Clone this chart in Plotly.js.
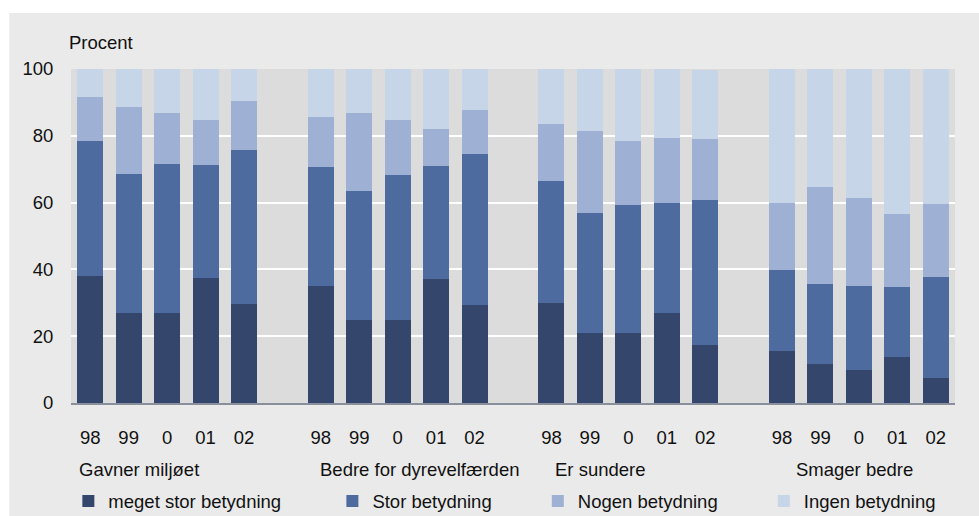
<!DOCTYPE html>
<html>
<head>
<meta charset="utf-8">
<script src="https://cdn.plot.ly/plotly-3.0.1.min.js"></script>
<style>html,body{margin:0;padding:0;background:#fff}#chart{width:979px;height:516px}</style>
</head>
<body>
<div id="chart"></div>
<script>
// Data
const groups = ["Gavner miljøet", "Bedre for dyrevelfærden", "Er sundere", "Smager bedre"];
const years = ["98", "99", "0", "01", "02"];
const seriesNames = ["meget stor betydning", "Stor betydning", "Nogen betydning", "Ingen betydning"];
const megetStor = [38.1, 27.0, 27.0, 37.5, 29.7,  35.1, 24.9, 24.9, 37.2, 29.4,  30.0, 21.0, 21.0, 27.0, 17.4,  15.6, 11.8, 10.0, 13.8, 7.6];
const stor      = [40.4, 41.6, 44.6, 33.8, 46.1,  35.6, 38.6, 43.4, 33.8, 45.2,  36.5, 36.0, 38.4, 32.9, 43.4,  24.3, 23.9, 25.1, 21.0, 30.1];
const nogen     = [13.1, 20.0, 15.2, 13.4, 14.6,  14.9, 23.3, 16.4, 11.0, 13.1,  17.0, 24.4, 19.1, 19.5, 18.3,  20.0, 29.0, 26.3, 21.8, 21.9];
const ingen     = [ 8.4, 11.4, 13.2, 15.3,  9.6,  14.4, 13.2, 15.3, 18.0, 12.3,  16.5, 18.6, 21.5, 20.6, 20.5,  40.1, 35.3, 38.6, 43.4, 40.4];

// Layout helpers (positions/styles)
const colors = ["#34466b", "#4e6ba0", "#9eb0d4", "#c6d5e8"];
const slot = 6; // 5 bars + 1 empty slot per group
const xs = [], tickText = [];
groups.forEach((g, gi) => years.forEach((y, yi) => { xs.push(gi * slot + yi); tickText.push(y); }));
const labelOffsets = [-0.34, -0.07, 0.05, 0.31];
const padCounts = [9, 8, 8, 0];

const allSeries = [megetStor, stor, nogen, ingen];
const traces = allSeries.map((vals, i) => ({
  type: 'bar',
  x: xs,
  y: vals,
  name: seriesNames[i] + '\u00a0'.repeat(padCounts[i]),
  marker: {color: colors[i], line: {width: 0}},
  hoverinfo: 'y'
}));

const font = {family: '"Liberation Sans", Arial, sans-serif', size: 18.5, color: '#111'};

const annotations = groups.map((g, gi) => ({
  text: g, xref: 'x', yref: 'paper',
  x: gi * slot + labelOffsets[gi] , y: -0.2, xanchor: 'left', yanchor: 'middle',
  showarrow: false, font: font
}));
annotations.push({
  text: 'Procent', xref: 'paper', yref: 'paper', x: -0.0043, y: 1.08,
  xanchor: 'left', yanchor: 'middle', showarrow: false, font: font
});

const layout = {
  width: 979, height: 516,
  margin: {l: 71, r: 24, t: 69, b: 113, pad: 0, autoexpand: false},
  paper_bgcolor: '#eaeaea',
  plot_bgcolor: '#dcdcdc',
  barmode: 'stack',
  bargap: 0.324,
  showlegend: true,
  legend: {
    orientation: 'h', x: -0.003, y: -0.295, xanchor: 'left', yanchor: 'middle',
    font: font, bgcolor: 'rgba(0,0,0,0)', traceorder: 'normal', itemclick: false
  },
  xaxis: {
    range: [-0.5, 22.5], tickmode: 'array', tickvals: xs, ticktext: tickText,
    showgrid: false, zeroline: false, showline: true, linecolor: '#8a909b', linewidth: 2,
    ticks: 'outside', ticklen: 17, tickcolor: 'rgba(0,0,0,0)', tickfont: font,
    fixedrange: true, automargin: false
  },
  yaxis: {
    range: [0, 100], tickvals: [0, 20, 40, 60, 80, 100],
    showgrid: true, gridcolor: '#ffffff', gridwidth: 2, zeroline: false,
    showline: false, ticks: 'outside', ticklen: 13, tickcolor: 'rgba(0,0,0,0)',
    tickfont: font, fixedrange: true, automargin: false
  },
  shapes: [
    {type: 'rect', xref: 'paper', yref: 'paper', x0: -0.1, x1: 1.1, y0: 1.1675, y1: 1.3, fillcolor: '#ffffff', line: {width: 0}, layer: 'above'},
    {type: 'rect', xref: 'paper', yref: 'paper', x0: -0.1, x1: -0.0698, y0: -0.4, y1: 1.3, fillcolor: '#ffffff', line: {width: 0}, layer: 'above'}
  ],
  annotations: annotations
};

Plotly.newPlot('chart', traces, layout, {displayModeBar: false, staticPlot: true});
</script>
</body>
</html>
